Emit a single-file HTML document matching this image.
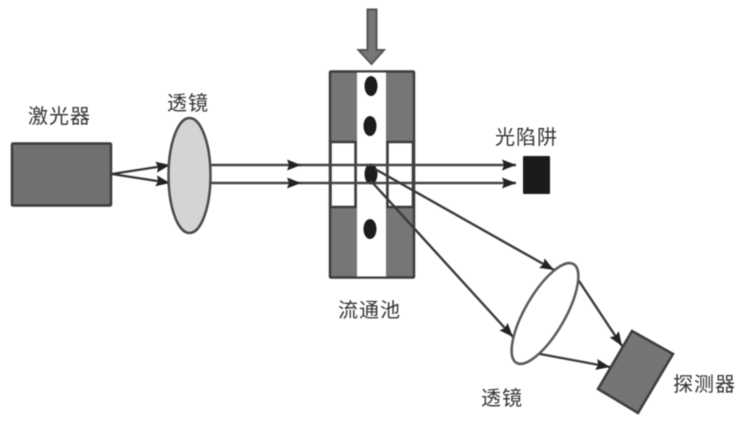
<!DOCTYPE html>
<html>
<head>
<meta charset="utf-8">
<style>
html,body{margin:0;padding:0;background:#fff;overflow:hidden}
svg{display:block;filter:blur(0.5px)}
text{font-family:"Liberation Sans","Noto Sans CJK SC",sans-serif;font-size:20px;fill:#333;letter-spacing:1px}
</style>
</head>
<body>
<svg width="743" height="421" viewBox="0 0 743 421" xmlns="http://www.w3.org/2000/svg">
<defs>
<marker id="a" markerUnits="userSpaceOnUse" markerWidth="15" markerHeight="12" refX="14" refY="6" orient="auto"><path d="M0 0.500L14 6L0 11.500L2 6Z" fill="#222"/></marker>
</defs>
<!-- top arrow -->
<path d="M367.500 9.500H376.500V50H384L371.500 64L358.500 50H367.500Z" fill="#777" stroke="#555" stroke-width="2"/>
<!-- flow cell -->
<rect x="330" y="71.500" width="84" height="206" fill="#767676" stroke="#3c3c3c" stroke-width="2.500" rx="1"/>
<rect x="357" y="72.500" width="29" height="204" fill="#fff"/>
<rect x="330.500" y="142" width="25" height="65" fill="#fff" stroke="#3c3c3c" stroke-width="2.500"/>
<rect x="387.500" y="142" width="25.500" height="65" fill="#fff" stroke="#3c3c3c" stroke-width="2.500"/>
<!-- particles -->
<ellipse cx="371" cy="86" rx="6.500" ry="10" fill="#1c1c1c"/>
<ellipse cx="370" cy="126" rx="6.500" ry="10" fill="#1c1c1c"/>
<ellipse cx="371" cy="174" rx="6.500" ry="10.500" fill="#1c1c1c"/>
<ellipse cx="370" cy="229" rx="6.500" ry="10" fill="#1c1c1c"/>
<!-- laser -->
<rect x="12" y="143.500" width="99" height="62" fill="#707070" stroke="#3c3c3c" stroke-width="2.500" rx="1"/>
<!-- laser rays -->
<path d="M112 174L170 165" stroke="#333" stroke-width="2.200" fill="none" marker-end="url(#a)"/>
<path d="M112 174L170 183" stroke="#333" stroke-width="2.200" fill="none" marker-end="url(#a)"/>
<!-- beams -->
<path d="M211 165H301" stroke="#444" stroke-width="2.400" fill="none" marker-end="url(#a)"/>
<path d="M211 183H301" stroke="#444" stroke-width="2.400" fill="none" marker-end="url(#a)"/>
<path d="M300 165H516" stroke="#444" stroke-width="2.400" marker-end="url(#a)"/>
<path d="M300 183H516" stroke="#444" stroke-width="2.400" marker-end="url(#a)"/>
<!-- first lens -->
<ellipse cx="189.500" cy="175.500" rx="21" ry="57.500" fill="#d4d4d4" stroke="#4a4a4a" stroke-width="2.500"/>
<!-- scattered rays -->
<path d="M375 169L554 270" stroke="#3a3a3a" stroke-width="2.400" fill="none" marker-end="url(#a)"/>
<path d="M371 181L513 337" stroke="#3a3a3a" stroke-width="2.400" fill="none" marker-end="url(#a)"/>
<!-- second lens -->
<ellipse cx="545" cy="313.500" rx="57" ry="20" transform="rotate(-60 545 313.500)" fill="#fff" stroke="#5a5a5a" stroke-width="2.500"/>
<path d="M579 281L622 346" stroke="#3a3a3a" stroke-width="2.400" fill="none" marker-end="url(#a)"/>
<path d="M540 354L610 367" stroke="#3a3a3a" stroke-width="2.400" fill="none" marker-end="url(#a)"/>
<!-- detector -->
<polygon points="632,331 673,354 638,413 598,389" fill="#757575" stroke="#3c3c3c" stroke-width="2.500"/>
<!-- trap -->
<rect x="523" y="156" width="27" height="38" fill="#1b1b1b" rx="1"/>
<!-- labels -->
<text x="28" y="123">激光器</text>
<text x="167" y="110">透镜</text>
<text x="495" y="144">光陷阱</text>
<text x="338" y="317">流通池</text>
<text x="481" y="405">透镜</text>
<text x="673" y="391">探测器</text>
</svg>
</body>
</html>
